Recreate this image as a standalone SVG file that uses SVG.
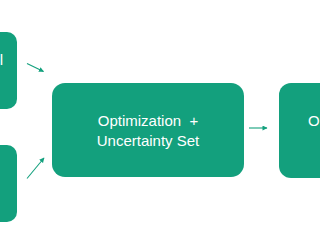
<svg xmlns="http://www.w3.org/2000/svg" width="320" height="240" viewBox="0 0 320 240">
<style>
.box{fill:#13a07d}
.lbl{fill:#ffffff;font-family:"Liberation Sans",Arial,sans-serif;font-size:15px}
.con{stroke:#13a07d;stroke-width:1.1;fill:none}
</style>
<defs>
<marker id="ah" viewBox="0 0 10 10" refX="9" refY="5" markerWidth="5.5" markerHeight="5" orient="auto" markerUnits="userSpaceOnUse">
<path d="M0,0 L10,5 L0,10 Z" fill="#13a07d"/>
</marker>
</defs>
<rect width="320" height="240" fill="#ffffff"/>
<g id="node-top-left">
<rect class="box" x="-70" y="32" width="87" height="77" rx="10"/>
<text class="lbl" x="3" y="65" text-anchor="end">l</text>
</g>
<g id="node-bottom-left">
<rect class="box" x="-70" y="145" width="87" height="77" rx="10"/>
</g>
<g id="node-middle">
<rect class="box" x="52" y="83" width="192" height="94" rx="13"/>
<text class="lbl" x="148" y="126" text-anchor="middle" xml:space="preserve">Optimization  +</text>
<text class="lbl" x="148" y="145.5" text-anchor="middle">Uncertainty Set</text>
</g>
<g id="node-right">
<rect class="box" x="279" y="83" width="100" height="95" rx="12"/>
<text class="lbl" x="308" y="126">O</text>
</g>
<g id="connectors">
<line class="con" x1="27" y1="63.5" x2="43.5" y2="71.5" marker-end="url(#ah)"/>
<line class="con" x1="27" y1="178.5" x2="44" y2="158" marker-end="url(#ah)"/>
<line class="con" x1="249" y1="128" x2="267" y2="128" marker-end="url(#ah)"/>
</g>
</svg>
